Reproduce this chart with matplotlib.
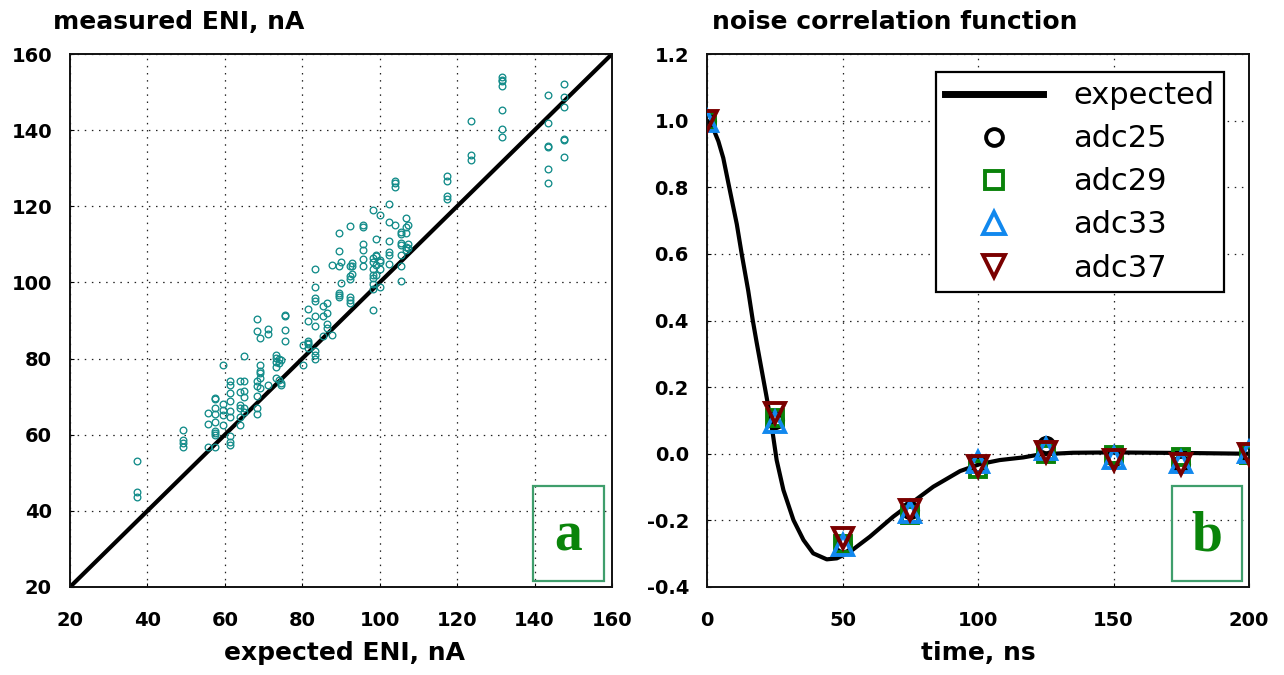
import matplotlib
matplotlib.use("Agg")
import matplotlib.pyplot as plt
from matplotlib.patches import Rectangle

# ---------------- data: panel a ----------------
expected_eni = (
    [37.3] * 3 + [49.3] * 4 + [55.7] * 3 + [57.5] * 9 + [59.4] * 5 + [61.3] * 9 +
    [63.9] * 6 + [65.0] * 6 + [68.3] * 7 + [69.0] * 6 + [71.1] * 3 + [73.2] * 5 +
    [74.0] * 3 + [74.6] * 3 + [75.6] * 4 + [80.1] * 2 + [81.5] * 6 + [83.3] * 9 +
    [85.4] * 3 + [86.4] * 4 + [87.8] * 2 + [89.6] * 6 + [90.1] * 2 + [92.3] * 7 +
    [92.8] * 3 + [95.7] * 6 + [98.2] * 9 + [99.1] * 5 + [100.2] * 5 + [102.3] * 6 +
    [104.0] * 4 + [105.4] * 7 + [106.8] * 5 + [107.3] * 3 + [117.4] * 4 +
    [123.7] * 3 + [131.7] * 7 + [143.5] * 6 + [147.5] * 6
)
measured_eni = [
    53.0, 45.0, 43.6,
    61.3, 58.7, 57.8, 56.7,
    65.8, 62.7, 56.7,
    69.7, 69.5, 67.0, 65.5, 63.4, 60.9, 60.4, 60.0, 56.7,
    78.2, 68.1, 66.5, 65.1, 62.5,
    74.0, 73.0, 70.9, 68.8, 66.2, 64.6, 59.7, 58.1, 57.3,
    74.2, 71.2, 67.7, 67.0, 64.6, 62.5,
    80.7, 74.0, 71.6, 69.8, 67.0, 66.0,
    90.5, 87.3, 74.0, 72.7, 70.2, 67.1, 65.5,
    85.5, 78.2, 76.8, 76.3, 74.9, 72.4,
    87.7, 86.4, 73.0,
    81.0, 80.2, 79.1, 77.7, 74.9,
    80.0, 78.9, 74.4,
    79.6, 73.7, 73.0,
    91.4, 91.1, 87.5, 84.7,
    83.6, 78.2,
    93.0, 89.9, 84.7, 84.2, 83.8, 82.7,
    103.4, 98.9, 95.9, 95.2, 91.3, 88.6, 81.9, 81.0, 79.9,
    93.9, 91.3, 85.8,
    94.5, 92.0, 89.2, 88.0,
    104.5, 86.1,
    113.0, 108.3, 104.4, 97.1, 96.7, 96.1,
    105.3, 99.9,
    114.8, 104.2, 101.6, 100.8, 96.1, 95.5, 94.5,
    105.0, 104.4, 102.3,
    115.1, 114.6, 110.0, 108.6, 106.2, 104.2,
    119.1, 106.4, 105.3, 103.4, 102.0, 101.1, 99.7, 98.3, 92.7,
    111.4, 107.3, 106.9, 104.5, 102.0,
    117.6, 105.8, 105.3, 103.4, 98.9,
    120.7, 115.8, 110.9, 108.1, 107.3, 104.8,
    126.6, 126.1, 125.1, 115.1,
    113.2, 112.8, 110.4, 109.8, 107.2, 104.4, 100.4,
    117.0, 114.6, 113.0, 109.2, 108.6,
    115.1, 110.0, 109.0,
    127.9, 126.6, 122.6, 121.9,
    142.5, 133.5, 132.1,
    153.9, 153.2, 152.8, 151.6, 145.3, 140.4, 138.2,
    149.2, 141.8, 135.9, 135.5, 129.8, 126.1,
    152.2, 148.8, 146.0, 137.8, 137.3, 132.9,
]
diagonal = [20, 160]
a_ticks = [20, 40, 60, 80, 100, 120, 140, 160]

# ---------------- data: panel b ----------------
curve_t = [0, 1.7, 4.2, 6.0, 8.2, 11.0, 12.8, 15.2, 16.9, 18.3, 19.6, 22.0, 23.9,
           25.7, 28.2, 31.9, 35.6, 39.2, 44.2, 47.9, 52.8, 60.1, 68.7, 74.9, 83.5,
           93.4, 100.7, 108.0, 116.7, 122.9, 135, 150, 165, 180, 190, 200]
curve_y = [1.0, 0.988, 0.938, 0.888, 0.80, 0.689, 0.60, 0.49, 0.40, 0.335, 0.277,
           0.170, 0.081, -0.019, -0.109, -0.199, -0.259, -0.299, -0.317, -0.314,
           -0.294, -0.249, -0.189, -0.151, -0.099, -0.052, -0.031, -0.019, -0.011,
           -0.002, 0.003, 0.004, 0.003, 0.002, 0.001, 0.0]
lag_ns = [0, 25, 50, 75, 100, 125, 150, 175, 200]
adc25 = [1.0, 0.10, -0.27, -0.169, -0.03, 0.025, -0.01, -0.03, 0.0]
adc29 = [1.0, 0.106, -0.27, -0.184, -0.045, 0.0, -0.005, -0.009, -0.003]
adc33 = [1.0, 0.096, -0.274, -0.174, -0.024, 0.015, -0.014, -0.024, 0.005]
adc37 = [1.0, 0.121, -0.254, -0.169, -0.037, 0.005, -0.019, -0.03, 0.0]
b_xticks = [0, 50, 100, 150, 200]
b_yticks = [-0.4, -0.2, 0.0, 0.2, 0.4, 0.6, 0.8, 1.0, 1.2]
b_yticklabels = ["-0.4", "-0.2", "0.0", "0.2", "0.4", "0.6", "0.8", "1.0", "1.2"]

# ---------------- figure ----------------
plt.rcParams['font.family'] = ['DejaVu Sans']
W, H = 1284, 675
fig = plt.figure(figsize=(W / 100, H / 100), dpi=100)

def ax_rect(x0, x1, y0, y1):
    return [x0 / W, 1 - y1 / H, (x1 - x0) / W, (y1 - y0) / H]

axA = fig.add_axes(ax_rect(70, 612, 54, 587))
axB = fig.add_axes(ax_rect(707, 1249, 54, 587))

TICK_FS = 14
grid_kw = dict(color='#222222', linestyle=(0, (1.2, 4.5)), linewidth=0.9)

for ax in (axA, axB):
    for s in ax.spines.values():
        s.set_linewidth(1.4)
        s.set_color('#111111')
    ax.tick_params(direction='in', length=3, width=0.8, labelsize=TICK_FS)
    ax.tick_params(axis='x', pad=17)
    ax.tick_params(axis='y', pad=13)
    ax.grid(True, **grid_kw)
    ax.set_axisbelow(True)

# panel a
axA.plot(diagonal, diagonal, color='black', lw=3.0, zorder=2, solid_capstyle='butt')
axA.plot(expected_eni, measured_eni, linestyle='none', marker='o', ms=4.8,
         mfc='none', mec='#138c8a', mew=0.95, zorder=3)
axA.set_xlim(20, 160)
axA.set_ylim(20, 160)
axA.set_xticks(a_ticks)
axA.set_yticks(a_ticks)
axA.set_xticklabels([str(v) for v in a_ticks], fontweight='bold', fontsize=TICK_FS)
axA.set_yticklabels([str(v) for v in a_ticks], fontweight='bold', fontsize=TICK_FS)

# panel b
axB.plot(curve_t, curve_y, color='black', lw=3.0, zorder=2, label='expected')
axB.plot(lag_ns, adc25, linestyle='none', marker='o', ms=11, mfc='none',
         mec='black', mew=2.8, zorder=3, label='adc25')
axB.plot(lag_ns, adc29, linestyle='none', marker='s', ms=11.5, mfc='none',
         mec='#0a820a', mew=2.8, zorder=4, label='adc29')
axB.plot(lag_ns, adc33, linestyle='none', marker='^', ms=14, mfc='none',
         mec='#1188ee', mew=2.8, zorder=5, label='adc33')
axB.plot(lag_ns, adc37, linestyle='none', marker='v', ms=14, mfc='none',
         mec='#7a0000', mew=2.8, zorder=6, label='adc37')
axB.set_xlim(0, 200)
axB.set_ylim(-0.4, 1.2)
axB.set_xticks(b_xticks)
axB.set_yticks(b_yticks)
axB.set_xticklabels([str(v) for v in b_xticks], fontweight='bold', fontsize=TICK_FS)
axB.set_yticklabels(b_yticklabels, fontweight='bold', fontsize=TICK_FS)

leg = axB.legend(loc='upper right', bbox_to_anchor=(0.953, 0.966),
                 fontsize=22, frameon=True, fancybox=False, framealpha=1,
                 edgecolor='black', handlelength=3.2, handletextpad=1.0,
                 labelspacing=0.46, borderpad=0.3, borderaxespad=0,
                 markerscale=1.1)
leg.get_frame().set_linewidth(1.6)
leg.get_lines()[0].set_linewidth(5)
leg.set_zorder(10)

# panel labels a / b
box_kw = dict(fill=False, edgecolor='#3f9e6c', linewidth=1.6, zorder=7)
axA.add_patch(Rectangle((0.854, 0.011), 0.131, 0.179, transform=axA.transAxes, **box_kw))
axB.add_patch(Rectangle((0.858, 0.011), 0.129, 0.179, transform=axB.transAxes, **box_kw))
lab_kw = dict(family=['Liberation Serif', 'DejaVu Serif'], fontweight='bold',
              fontsize=40, color='#0a840a', ha='center', va='baseline', zorder=8)
axA.text(0.9195, 0.069, 'a', transform=axA.transAxes, **lab_kw)
axB.text(0.9225, 0.069, 'b', transform=axB.transAxes, **lab_kw)

# titles and axis labels
LAB_FS = 18
fig.text(53 / W, 1 - 29 / H, 'measured ENI, nA', fontsize=LAB_FS, fontweight='bold',
         ha='left', va='baseline')
fig.text(712 / W, 1 - 29 / H, 'noise correlation function', fontsize=LAB_FS,
         fontweight='bold', ha='left', va='baseline')
fig.text(345 / W, 1 - 660 / H, 'expected ENI, nA', fontsize=LAB_FS, fontweight='bold',
         ha='center', va='baseline')
fig.text(978 / W, 1 - 660 / H, 'time, ns', fontsize=LAB_FS, fontweight='bold',
         ha='center', va='baseline')

fig.savefig('out.png', dpi=100)
